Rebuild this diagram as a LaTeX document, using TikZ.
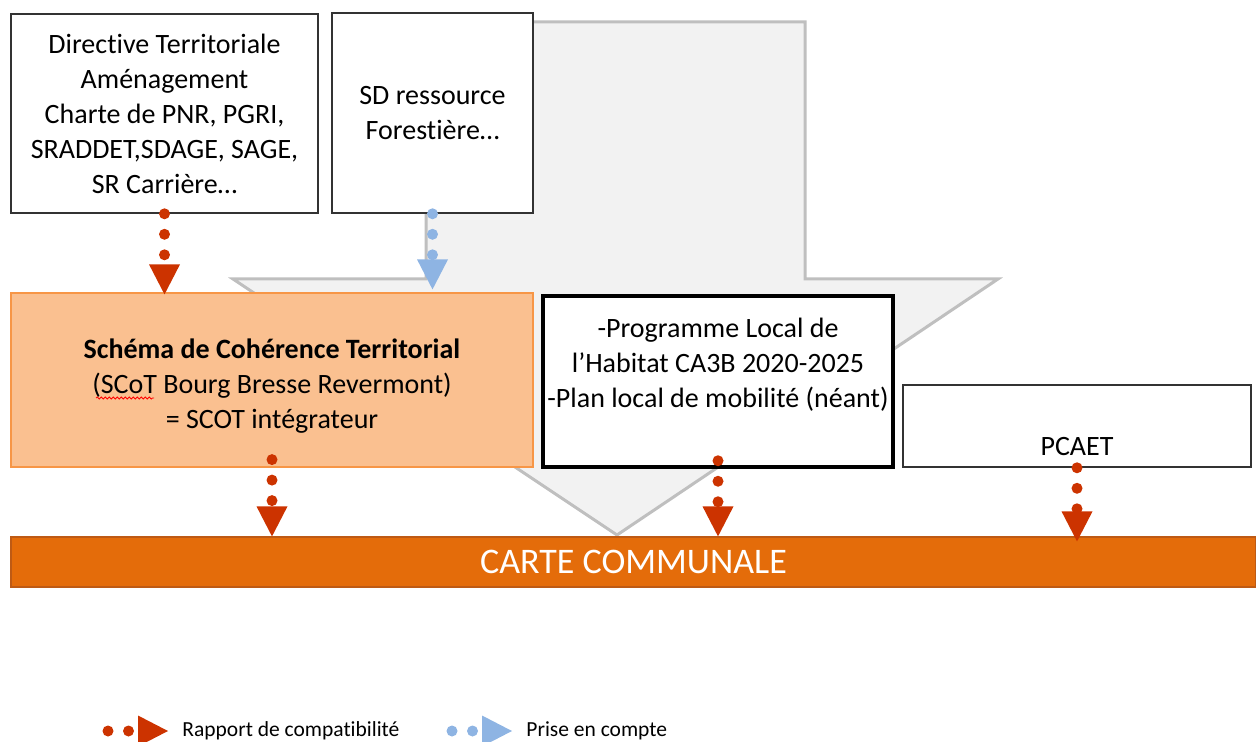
\documentclass[tikz,border=0pt]{standalone}
\usepackage{fontspec}
\setmainfont{Carlito}[Ligatures=NoCommon]
\usetikzlibrary{arrows.meta,decorations.pathmorphing}
\definecolor{grisfond}{HTML}{F2F2F2}
\definecolor{grisbord}{HTML}{BFBFBF}
\definecolor{peche}{HTML}{FAC090}
\definecolor{orangebord}{HTML}{F79646}
\definecolor{orangefonce}{HTML}{E46C0A}
\definecolor{brunbord}{RGB}{190,90,20}
\definecolor{rouille}{RGB}{204,51,0}
\definecolor{bleuclair}{HTML}{8EB4E3}
\begin{document}
\begin{tikzpicture}[x=0.5pt,y=-0.5pt,
  cadre/.style={draw=black!80,line width=0.8pt,fill=white,inner sep=0pt,align=center,font=\fontsize{14}{17.5}\selectfont},
  compat/.style={draw=rouille,line width=5.5pt,line cap=round,dash pattern=on 0pt off 10.25pt,-{Triangle[width=15.5pt,length=15pt,line width=0pt]}},
  prise/.style={compat,draw=bleuclair},
  legende/.style={anchor=west,inner sep=0pt,font=\fontsize{10.75}{13}\selectfont}]
\useasboundingbox (0,0) rectangle (1256,742);
\draw[grisbord,fill=grisfond,line width=1.5pt] (426,22)--(805,22)--(805,279)--(998,279)--(617,535)--(233,279)--(426,279)--cycle;
\node[cadre,minimum width=153.5pt,minimum height=99.5pt] (dta) at (164.5,113.5) {Directive Territoriale\\Aménagement\\Charte de PNR, PGRI,\\SRADDET,SDAGE, SAGE,\\SR Carrière…};
\node[cadre,minimum width=100.5pt,minimum height=100pt] (sdrf) at (432.5,113) {SD ressource\\Forestière…};
\node[cadre,draw=orangebord,line width=0.6pt,fill=peche,minimum width=261pt,minimum height=87pt] (scot) at (272,380) {\strut\\[-13.5pt]\textbf{Schéma de Cohérence Territorial}\\(SCoT Bourg Bresse Revermont)\\= SCOT intégrateur};
\draw[red,line width=0.4pt,decorate,decoration={snake,amplitude=0.5pt,segment length=2pt}] (96,398)--(154,398);
\node[cadre,draw=black,line width=1.75pt,minimum width=175pt,minimum height=85.5pt] (plh) at (718,381.5) {-Programme Local de\\l’Habitat CA3B 2020-2025\\-Plan local de mobilité (néant)\\[-4.5pt]\strut};
\node[cadre,minimum width=174pt,minimum height=41pt] (pcaet) at (1077,426) {\strut\\PCAET};
\node[draw=brunbord,line width=0.6pt,fill=orangefonce,text=white,font=\fontsize{18}{21}\selectfont,minimum width=622.5pt,minimum height=25pt,inner sep=0pt] (carte) at (633.5,562) {CARTE COMMUNALE};
\draw[compat] (dta.south) -- ([yshift=-1pt]dta.south |- scot.north);
\draw[prise] (sdrf.south) -- ([yshift=1.5pt]sdrf.south |- scot.north);
\draw[compat] ([yshift=4pt]scot.south) -- (scot.south |- carte.north);
\draw[compat] ([yshift=4pt]plh.south) -- (plh.south |- carte.north);
\draw[compat] (pcaet.south) -- ([yshift=-2.5pt]pcaet.south |- carte.north);
\coordinate (rc1) at (108,731); \coordinate (rc2) at (168,731);
\coordinate (pc1) at (452,731); \coordinate (pc2) at (512,731);
\draw[compat] (rc1) -- (rc2);
\draw[prise] (pc1) -- (pc2);
\node[legende] (rct) at (182,731) {Rapport de compatibilité};
\node[legende] (pct) at (526,731) {Prise en compte};
\end{tikzpicture}
\end{document}
